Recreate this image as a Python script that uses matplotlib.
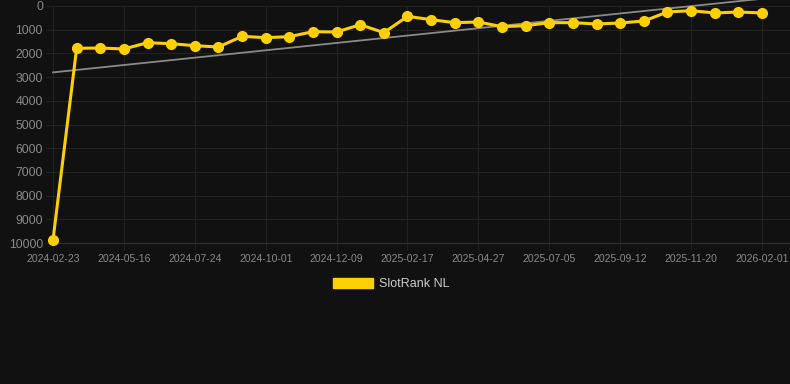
import matplotlib
matplotlib.use("Agg")
import matplotlib.pyplot as plt
from matplotlib.patches import Patch
import numpy as np

plt.rcParams['font.family'] = ['Liberation Sans', 'DejaVu Sans']

# rank per snapshot (lower is better)
ranks = [9870, 1785, 1772, 1814, 1548, 1590, 1674, 1730, 1280, 1336, 1294,
         1083, 1097, 788, 1125, 436, 577, 703, 675, 872, 830, 703, 703,
         760, 717, 633, 253, 197, 295, 253, 295]
tick_labels = ['2024-02-23', '2024-05-16', '2024-07-24', '2024-10-01',
               '2024-12-09', '2025-02-17', '2025-04-27', '2025-07-05',
               '2025-09-12', '2025-11-20', '2026-02-01']
y_ticks = [0, 1000, 2000, 3000, 4000, 5000, 6000, 7000, 8000, 9000, 10000]

bg = '#111111'
grid = '#222222'
yellow = '#FFD000'

x = np.arange(len(ranks))
slope, icpt = np.polyfit(x, ranks, 1)

fig = plt.figure(figsize=(7.9, 3.84), dpi=100, facecolor=bg)
ax = fig.add_axes([53/790, 1-243/384, 1-53/790, 237/384], facecolor=bg)

ax.plot(x, slope*x + icpt, '-', color='#8a8a8a', lw=1.3, zorder=2, clip_on=False)
ax.plot(x, ranks, '-o', color=yellow, lw=2.2, markersize=7, zorder=3, clip_on=False)

ax.set_xlim(0, 30 + 28/23.63)
ax.set_ylim(10000, 0)
ax.set_yticks(y_ticks)
ax.set_yticklabels([str(v) for v in y_ticks])
ax.set_xticks(x[::3])
ax.set_xticklabels(tick_labels)
ax.tick_params(axis='y', colors=grid, labelcolor='#8a8a8a', labelsize=8.8, length=5, pad=2.2)
ax.tick_params(axis='x', colors=grid, labelcolor='#8a8a8a', labelsize=7.5, length=5, pad=3)
ax.grid(True, color=grid, lw=0.8)
for s in ['top', 'right', 'left']:
    ax.spines[s].set_visible(False)
ax.spines['bottom'].set_color('#333333')

fig.legend(handles=[Patch(facecolor=yellow, edgecolor=yellow)], labels=['SlotRank NL'],
           loc='center', bbox_to_anchor=(391/790, 1-284/384), frameon=False,
           handlelength=3.2, handleheight=0.95, handletextpad=0.5,
           labelcolor='#cccccc', fontsize=9)

fig.savefig('out.png', dpi=100, facecolor=bg)
